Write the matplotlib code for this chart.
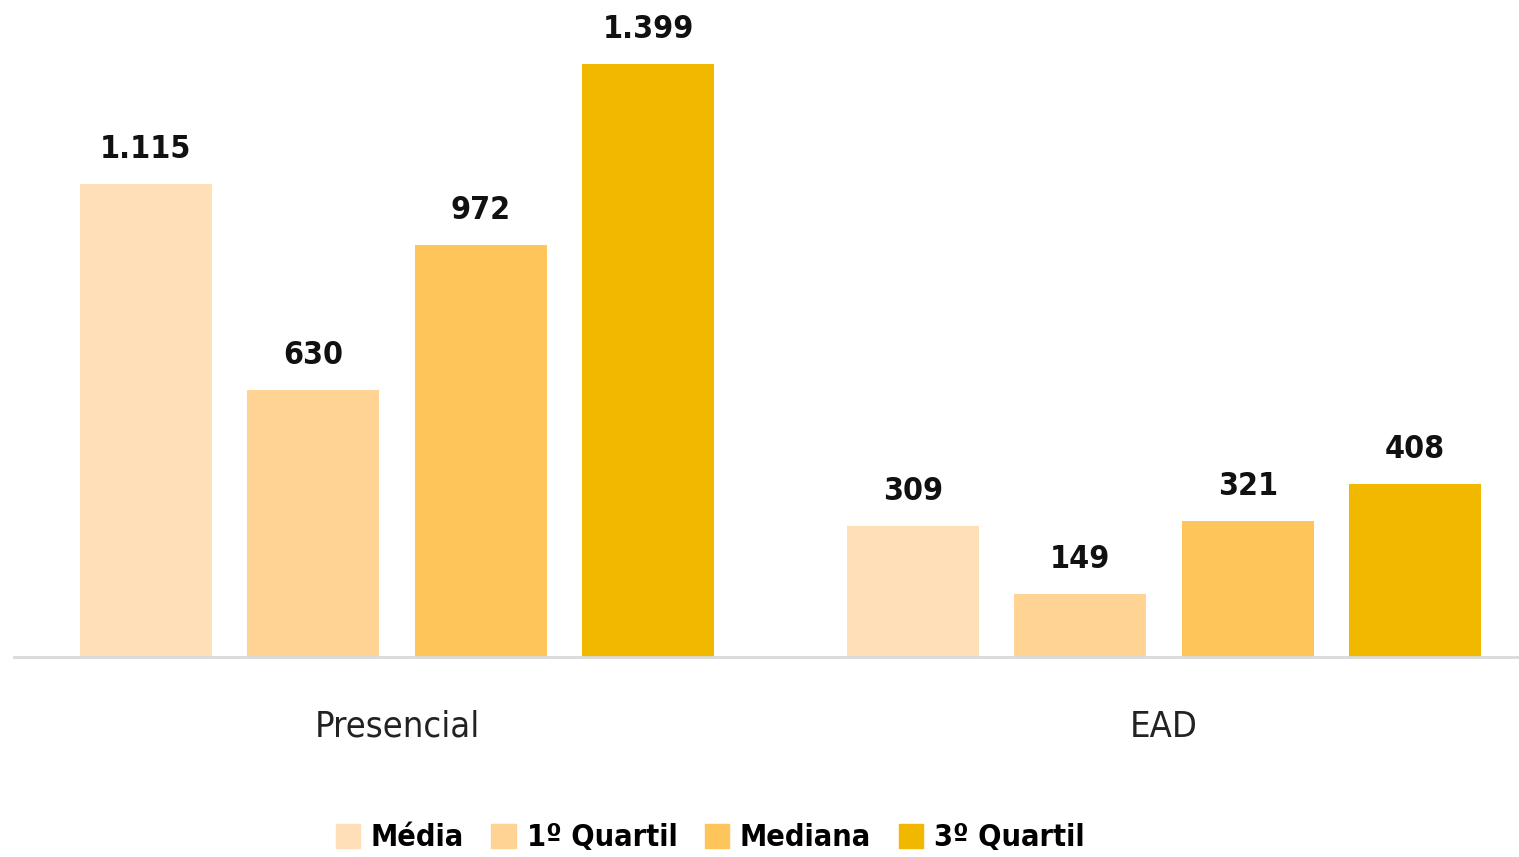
# Média e quartis - Presencial vs EAD
import matplotlib.pyplot as plt
from matplotlib.patches import Patch
import numpy as np

groups = ["Presencial", "EAD"]
series = ["Média", "1º Quartil", "Mediana", "3º Quartil"]
media = [1115, 309]
quartil1 = [630, 149]
mediana = [972, 321]
quartil3 = [1399, 408]
labels = [["1.115", "309"], ["630", "149"], ["972", "321"], ["1.399", "408"]]

colors = ["#FEDFB8", "#FED394", "#FEC55A", "#F2B800"]

plt.rcParams["font.family"] = ["DejaVu Sans"]
plt.rcParams["font.stretch"] = "condensed"

fig = plt.figure(figsize=(15.19, 8.57), dpi=100)
ax = fig.add_axes([14 / 1519, 200 / 857, 1505 / 1519, 657 / 857])

x = np.arange(len(groups))
step = 0.2184
width = 0.172
values = [media, quartil1, mediana, quartil3]
for i, vals in enumerate(values):
    pos = x + (i - 1.5) * step
    ax.bar(pos, vals, width, color=colors[i], label=series[i])
    for p, v, t in zip(pos, vals, labels[i]):
        ax.text(p, v + 45, t, ha="center", va="bottom", fontsize=23,
                fontweight="bold", color="#111111")

ax.set_xlim(-0.4994, 1.463)
ax.set_ylim(0, 1550)
ax.set_yticks([])
ax.set_xticks(x)
ax.set_xticklabels(groups, fontsize=26, color="#222222")
ax.tick_params(axis="x", length=0, pad=38)
for s in ["top", "right", "left"]:
    ax.spines[s].set_visible(False)
ax.spines["bottom"].set_color("#D9D9D9")
ax.spines["bottom"].set_linewidth(2)

handles = [Patch(color=c) for c in colors]
fig.legend(handles, series, loc="center", bbox_to_anchor=(710 / 1519, 1 - 838 / 857),
           ncol=4, frameon=False, prop={"size": 22, "weight": "bold"},
           handlelength=0.8, handleheight=0.8, handletextpad=0.35, columnspacing=0.9)

plt.savefig("out.png", dpi=100)
